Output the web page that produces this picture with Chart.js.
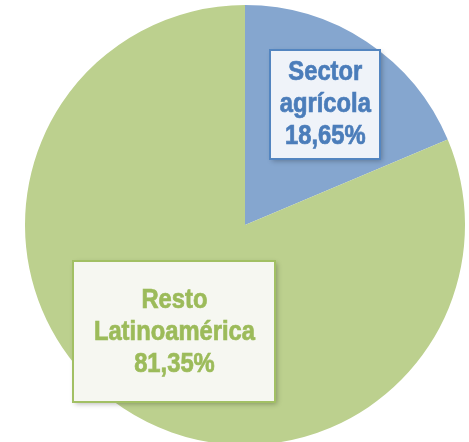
<!DOCTYPE html>
<html>
<head>
<meta charset="utf-8">
<script src="https://cdn.jsdelivr.net/npm/chart.js@4"></script>
<style>
  html, body { margin: 0; padding: 0; background: #fff; overflow: hidden; }
  #wrap { width: 469px; height: 450px; }
</style>
</head>
<body>
<div id="wrap"><canvas id="pieChart"></canvas></div>
<script>
/* ===== DATA ===== */
const labels   = ['Sector agrícola', 'Resto Latinoamérica'];
const values   = [18.65, 81.35];
const boxLines = [['Sector', 'agrícola', '18,65%'], ['Resto', 'Latinoamérica', '81,35%']];

/* ===== STYLES ===== */
const sliceColors = ['#85A6CF', '#BCD08E'];
const boxStyle = [
  { dist: 0.66, w: 110, h: 109, bg: '#EFF3F9', border: '#5385C0', text: '#4B7DBA' },
  { dist: 0.58, w: 202, h: 141, bg: '#F6F7F1', border: '#A2C064', text: '#9CBB5A' }
];
const FONT = "bold 27px 'Liberation Sans', Arial, sans-serif";
const SQUEEZE = 0.88;   // narrow face look
const LINE_H = 32;

// Draws the label boxes at each slice's mid angle
const boxLabels = {
  id: 'boxLabels',
  afterDatasetsDraw(chart) {
    const ctx = chart.ctx;
    chart.getDatasetMeta(0).data.forEach((arc, i) => {
      const p = arc.getProps(['x', 'y', 'startAngle', 'endAngle', 'outerRadius'], true);
      const mid = (p.startAngle + p.endAngle) / 2;
      const s = boxStyle[i];
      const cx = p.x + Math.cos(mid) * p.outerRadius * s.dist;
      const cy = p.y + Math.sin(mid) * p.outerRadius * s.dist;
      const x = Math.round(cx - s.w / 2), y = Math.round(cy - s.h / 2);

      ctx.save();
      ctx.shadowColor = 'rgba(0,0,0,0.28)';
      ctx.shadowBlur = 5;
      ctx.shadowOffsetX = 2;
      ctx.shadowOffsetY = 2;
      ctx.fillStyle = s.bg;
      ctx.fillRect(x, y, s.w, s.h);
      ctx.restore();

      ctx.save();
      ctx.strokeStyle = s.border;
      ctx.lineWidth = 2;
      ctx.strokeRect(x, y, s.w, s.h);
      ctx.fillStyle = s.text;
      ctx.strokeStyle = s.text;
      ctx.lineWidth = 0.7;
      ctx.font = FONT;
      ctx.textAlign = 'center';
      ctx.textBaseline = 'middle';
      const lines = boxLines[i];
      const top = cy - (lines.length - 1) * LINE_H / 2 + 1;
      ctx.translate(cx, 0);
      ctx.scale(SQUEEZE, 1);
      lines.forEach((t, k) => {
        ctx.fillText(t, 0, top + k * LINE_H);
        ctx.strokeText(t, 0, top + k * LINE_H);
      });
      ctx.restore();
    });
  }
};

new Chart(document.getElementById('pieChart'), {
  type: 'pie',
  data: {
    labels,
    datasets: [{ data: values, backgroundColor: sliceColors, borderWidth: 0 }]
  },
  options: {
    responsive: true, maintainAspectRatio: false,
    animation: false,
    layout: { padding: { left: 21, right: 0, top: 5, bottom: 5 } },
    plugins: { legend: { display: false }, tooltip: { enabled: false } }
  },
  plugins: [boxLabels]
});
</script>
</body>
</html>
